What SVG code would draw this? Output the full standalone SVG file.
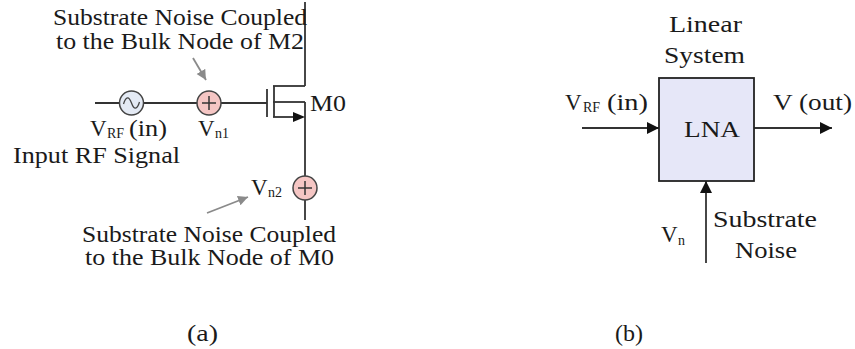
<svg xmlns="http://www.w3.org/2000/svg" width="855" height="349" viewBox="0 0 855 349">
<defs>
<style>
text{font-family:"Liberation Serif","Times New Roman",serif;font-size:23px;fill:#1a1a1a}
.sub{font-size:14px}
.w{stroke:#333;stroke-width:1.8;fill:none}
.g{stroke:#8a8a8a;stroke-width:1.8;fill:none}
.src{stroke:#444;stroke-width:1.5}
</style>
<marker id="ab" markerUnits="userSpaceOnUse" markerWidth="13" markerHeight="13" refX="12" refY="6" orient="auto">
<path d="M0,0 L12,6 L0,12 z" fill="#111"/>
</marker>
<marker id="ag" markerUnits="userSpaceOnUse" markerWidth="11" markerHeight="11" refX="10" refY="5" orient="auto">
<path d="M0,0 L10,5 L0,10 z" fill="#8a8a8a"/>
</marker>
</defs>
<rect width="855" height="349" fill="#fff"/>

<g id="connectors">
<line class="w" x1="95" y1="103" x2="267" y2="103"/>
<line class="w" x1="305" y1="2" x2="305" y2="86"/>
<line class="w" x1="305" y1="102" x2="305" y2="220"/>
<line class="g" x1="193" y1="58" x2="206" y2="80" marker-end="url(#ag)"/>
<line class="g" x1="207" y1="213" x2="248" y2="197" marker-end="url(#ag)"/>
<line class="w" stroke="#111" x1="582" y1="128" x2="659" y2="128" marker-end="url(#ab)"/>
<line class="w" stroke="#111" x1="754" y1="128" x2="832" y2="128" marker-end="url(#ab)"/>
<line class="w" stroke="#111" x1="706" y1="263" x2="706" y2="181" marker-end="url(#ab)"/>
</g>

<g id="M0">
<line class="w" x1="267" y1="89" x2="267" y2="117"/>
<line class="w" x1="274" y1="86" x2="274" y2="117"/>
<line class="w" x1="273" y1="86" x2="305" y2="86"/>
<line class="w" x1="273" y1="102" x2="305" y2="102"/>
<line class="w" x1="273" y1="117" x2="294" y2="117"/>
<path d="M293,112 L305,117 L293,122 z" fill="#111"/>
<text x="310" y="111" textLength="36" lengthAdjust="spacingAndGlyphs">M0</text>
</g>

<g id="vrf-source">
<circle class="src" cx="131.5" cy="103" r="12" fill="#e4eaf4"/>
<path d="M123.5,104 C126,96 129,96 131.5,103 C134,110 137,110 139.5,102" stroke="#444" stroke-width="1.3" fill="none"/>
<text x="90" y="136"><tspan>V</tspan><tspan class="sub" x="107" dy="2">RF</tspan><tspan x="129" dy="-2" textLength="38" lengthAdjust="spacingAndGlyphs">(in)</tspan></text>
<text x="13" y="163" textLength="167" lengthAdjust="spacingAndGlyphs">Input RF Signal</text>
</g>

<g id="vn1">
<circle class="src" cx="209" cy="103" r="12" fill="#f5c6c4"/>
<line stroke="#333" stroke-width="1.5" x1="202" y1="103" x2="216" y2="103"/>
<line stroke="#333" stroke-width="1.5" x1="209" y1="96" x2="209" y2="110"/>
<text x="198" y="136"><tspan>V</tspan><tspan class="sub" x="215" dy="2">n1</tspan></text>
<text x="53" y="25" textLength="254" lengthAdjust="spacingAndGlyphs">Substrate Noise Coupled</text>
<text x="56" y="49" textLength="248" lengthAdjust="spacingAndGlyphs">to the Bulk Node of M2</text>
</g>

<g id="vn2">
<circle class="src" cx="305" cy="188" r="12" fill="#f5c6c4"/>
<line stroke="#333" stroke-width="1.5" x1="298" y1="188" x2="312" y2="188"/>
<line stroke="#333" stroke-width="1.5" x1="305" y1="181" x2="305" y2="195"/>
<text x="251" y="195"><tspan>V</tspan><tspan class="sub" x="268" dy="2">n2</tspan></text>
<text x="82" y="242" textLength="254" lengthAdjust="spacingAndGlyphs">Substrate Noise Coupled</text>
<text x="85" y="265" textLength="249" lengthAdjust="spacingAndGlyphs">to the Bulk Node of M0</text>
</g>

<g id="LNA">
<rect x="659" y="78" width="95" height="103" fill="#e6e7f8" stroke="#222" stroke-width="1.8"/>
<text x="684" y="137" textLength="56" lengthAdjust="spacingAndGlyphs">LNA</text>
<text x="669" y="32" textLength="73" lengthAdjust="spacingAndGlyphs">Linear</text>
<text x="664" y="63" textLength="81" lengthAdjust="spacingAndGlyphs">System</text>
</g>

<g id="labels-b">
<text x="565" y="110"><tspan>V</tspan><tspan class="sub" x="583" dy="2">RF</tspan><tspan x="607" dy="-2" textLength="41" lengthAdjust="spacingAndGlyphs">(in)</tspan></text>
<text x="773" y="110" textLength="79" lengthAdjust="spacingAndGlyphs">V (out)</text>
<text x="661" y="242"><tspan>V</tspan><tspan class="sub" x="678" dy="3">n</tspan></text>
<text x="713" y="227" textLength="104" lengthAdjust="spacingAndGlyphs">Substrate</text>
<text x="735" y="258" textLength="62" lengthAdjust="spacingAndGlyphs">Noise</text>
</g>

<g id="captions">
<text x="187" y="341" font-size="26" textLength="31" lengthAdjust="spacingAndGlyphs">(a)</text>
<text x="615" y="341" font-size="26" textLength="28" lengthAdjust="spacingAndGlyphs">(b)</text>
</g>
</svg>
